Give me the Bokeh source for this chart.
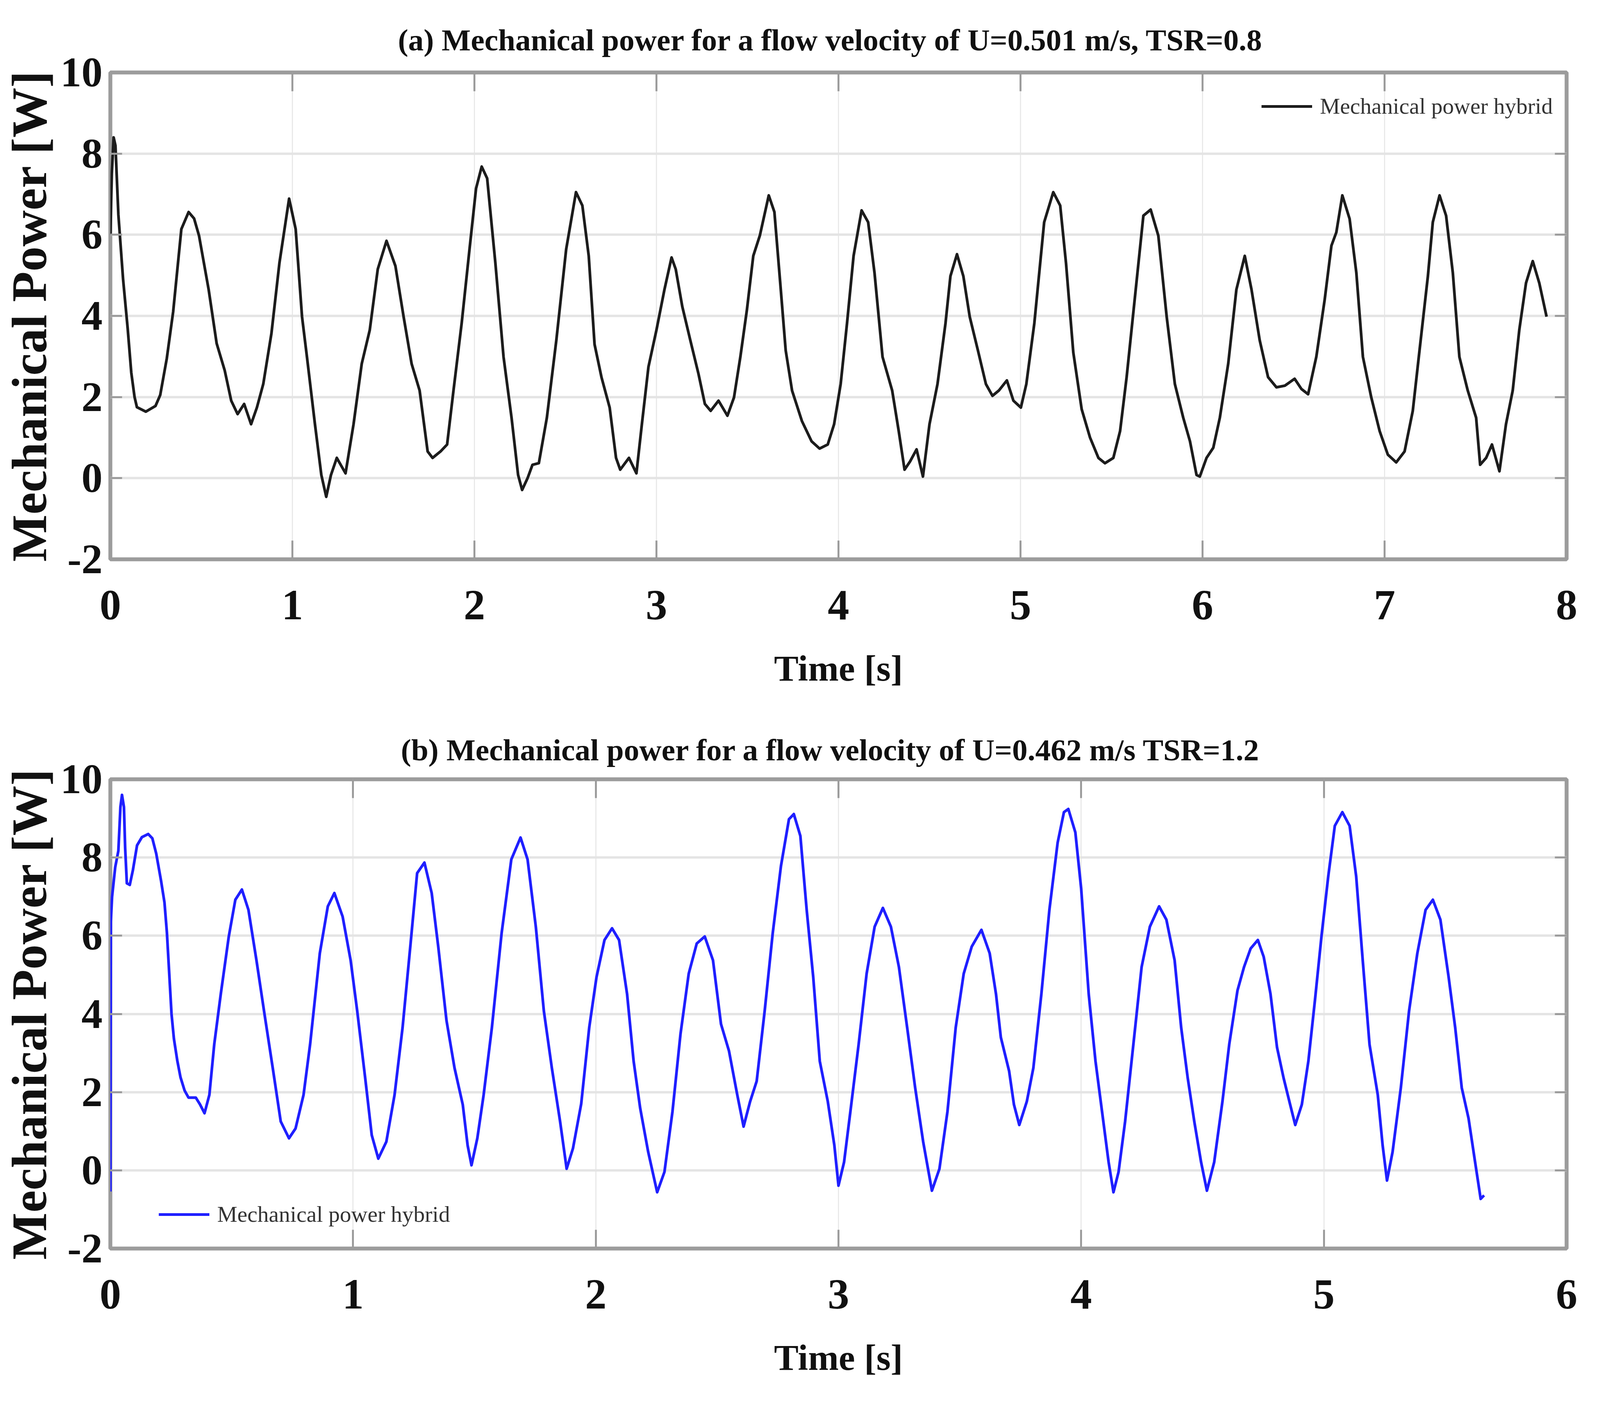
from bokeh.plotting import figure
from bokeh.layouts import column
from bokeh.models import LinearAxis, FixedTicker, Legend, LegendItem, Range1d
from bokeh.embed import file_html
from bokeh.resources import INLINE

# ---------------- data ----------------
title_a = "(a)   Mechanical power for a flow velocity of U=0.501 m/s, TSR=0.8"
title_b = "(b)   Mechanical power for a flow velocity of U=0.462 m/s TSR=1.2"
legend_label = "Mechanical power hybrid"
x_label = "Time [s]"
y_label = "Mechanical Power [W]"
x_ticks_a = [0, 1, 2, 3, 4, 5, 6, 7, 8]
x_ticks_b = [0, 1, 2, 3, 4, 5, 6]
y_ticks = [-2, 0, 2, 4, 6, 8, 10]
y_tick_labels = {-2: "-2", 0: "0", 2: "2", 4: "4", 6: "6", 8: "8", 10: "10"}

time_a = [0.000, 0.008, 0.018, 0.028, 0.044, 0.070, 0.095, 0.115, 0.133, 0.146,
          0.195, 0.248, 0.274, 0.310, 0.345, 0.390, 0.430, 0.460, 0.487, 0.540,
          0.584, 0.628, 0.664, 0.699, 0.735, 0.773, 0.805, 0.840, 0.885, 0.929,
          0.982, 1.018, 1.053, 1.080, 1.124, 1.159, 1.186, 1.212, 1.244, 1.292,
          1.336, 1.381, 1.425, 1.469, 1.517, 1.566, 1.611, 1.655, 1.699, 1.743,
          1.770, 1.814, 1.850, 1.885, 1.930, 1.973, 2.009, 2.040, 2.070, 2.115,
          2.160, 2.204, 2.240, 2.262, 2.292, 2.319, 2.354, 2.398, 2.450, 2.504,
          2.558, 2.593, 2.628, 2.660, 2.698, 2.743, 2.778, 2.801, 2.849, 2.890,
          2.920, 2.956, 3.000, 3.044, 3.083, 3.106, 3.142, 3.186, 3.231, 3.266,
          3.298, 3.341, 3.390, 3.426, 3.461, 3.497, 3.532, 3.568, 3.617, 3.648,
          3.683, 3.710, 3.745, 3.799, 3.852, 3.896, 3.941, 3.976, 4.012, 4.047,
          4.083, 4.127, 4.163, 4.198, 4.242, 4.295, 4.331, 4.363, 4.393, 4.429,
          4.464, 4.500, 4.544, 4.588, 4.615, 4.651, 4.686, 4.721, 4.766, 4.810,
          4.846, 4.881, 4.925, 4.961, 5.002, 5.032, 5.076, 5.130, 5.180, 5.218,
          5.250, 5.290, 5.336, 5.382, 5.428, 5.464, 5.510, 5.547, 5.583, 5.629,
          5.675, 5.715, 5.757, 5.803, 5.848, 5.894, 5.931, 5.967, 5.985, 6.022,
          6.059, 6.095, 6.141, 6.186, 6.232, 6.269, 6.314, 6.360, 6.406, 6.452,
          6.506, 6.543, 6.580, 6.625, 6.671, 6.708, 6.735, 6.768, 6.808, 6.845,
          6.881, 6.927, 6.973, 7.018, 7.064, 7.110, 7.155, 7.192, 7.238, 7.265,
          7.302, 7.338, 7.375, 7.411, 7.457, 7.503, 7.525, 7.558, 7.590, 7.631,
          7.667, 7.704, 7.740, 7.777, 7.814, 7.850, 7.890]
power_a = [6.00, 7.50, 8.40, 8.20, 6.50, 4.90, 3.70, 2.60, 2.00, 1.75,
           1.64, 1.78, 2.05, 2.95, 4.10, 6.14, 6.56, 6.40, 5.98, 4.65,
           3.32, 2.66, 1.91, 1.58, 1.83, 1.33, 1.74, 2.32, 3.57, 5.31,
           6.89, 6.14, 3.98, 2.99, 1.33, 0.08, -0.46, 0.08, 0.50, 0.12,
           1.33, 2.82, 3.65, 5.15, 5.85, 5.23, 3.98, 2.82, 2.16, 0.66,
           0.50, 0.66, 0.83, 2.16, 3.82, 5.64, 7.14, 7.68, 7.39, 5.31,
           2.99, 1.49, 0.08, -0.29, 0.00, 0.33, 0.37, 1.49, 3.40, 5.64,
           7.05, 6.72, 5.48, 3.30, 2.49, 1.74, 0.50, 0.21, 0.50, 0.12,
           1.33, 2.74, 3.65, 4.65, 5.44, 5.15, 4.23, 3.40, 2.57, 1.83,
           1.66, 1.91, 1.54, 1.99, 2.99, 4.15, 5.48, 5.98, 6.97, 6.56,
           4.65, 3.15, 2.16, 1.41, 0.91, 0.73, 0.83, 1.33, 2.32, 3.82,
           5.48, 6.60, 6.31, 5.06, 2.99, 2.16, 1.16, 0.21, 0.41, 0.71,
           0.04, 1.33, 2.32, 3.82, 4.98, 5.52, 4.98, 3.98, 3.15, 2.32,
           2.03, 2.16, 2.41, 1.91, 1.74, 2.32, 3.82, 6.31, 7.05, 6.72,
           5.30, 3.10, 1.70, 1.00, 0.50, 0.37, 0.50, 1.16, 2.49, 4.48,
           6.47, 6.62, 5.98, 3.98, 2.32, 1.49, 0.91, 0.08, 0.04, 0.50,
           0.75, 1.49, 2.82, 4.65, 5.48, 4.65, 3.40, 2.49, 2.24, 2.28,
           2.45, 2.20, 2.07, 2.99, 4.40, 5.73, 6.06, 6.97, 6.39, 5.06,
           2.99, 1.99, 1.16, 0.58, 0.39, 0.66, 1.66, 3.15, 4.98, 6.31,
           6.97, 6.47, 5.06, 2.99, 2.16, 1.49, 0.33, 0.50, 0.83, 0.17,
           1.33, 2.16, 3.65, 4.81, 5.35, 4.81, 3.98]

time_b = [0.000, 0.002, 0.007, 0.020, 0.033, 0.0415, 0.048, 0.056, 0.061, 0.068,
          0.080, 0.093, 0.110, 0.130, 0.156, 0.173, 0.189, 0.209, 0.223, 0.233,
          0.242, 0.252, 0.262, 0.276, 0.289, 0.306, 0.322, 0.352, 0.369, 0.388,
          0.408, 0.428, 0.455, 0.488, 0.515, 0.542, 0.569, 0.602, 0.635, 0.669,
          0.702, 0.736, 0.763, 0.796, 0.823, 0.863, 0.896, 0.923, 0.957, 0.990,
          1.017, 1.050, 1.077, 1.104, 1.137, 1.171, 1.204, 1.237, 1.264, 1.294,
          1.324, 1.351, 1.385, 1.418, 1.452, 1.472, 1.488, 1.512, 1.538, 1.572,
          1.612, 1.652, 1.690, 1.719, 1.753, 1.786, 1.819, 1.853, 1.880, 1.906,
          1.940, 1.973, 2.003, 2.036, 2.067, 2.096, 2.129, 2.156, 2.183, 2.216,
          2.253, 2.283, 2.316, 2.349, 2.383, 2.416, 2.449, 2.483, 2.516, 2.549,
          2.583, 2.609, 2.636, 2.663, 2.696, 2.729, 2.763, 2.796, 2.816, 2.843,
          2.869, 2.896, 2.923, 2.956, 2.983, 3.000, 3.023, 3.049, 3.083, 3.116,
          3.149, 3.183, 3.216, 3.249, 3.283, 3.316, 3.349, 3.385, 3.416, 3.449,
          3.483, 3.516, 3.549, 3.589, 3.623, 3.649, 3.669, 3.703, 3.723, 3.745,
          3.776, 3.803, 3.836, 3.869, 3.903, 3.929, 3.947, 3.976, 4.000, 4.031,
          4.059, 4.086, 4.113, 4.133, 4.154, 4.181, 4.215, 4.249, 4.283, 4.321,
          4.351, 4.385, 4.412, 4.439, 4.466, 4.494, 4.518, 4.548, 4.582, 4.610,
          4.644, 4.671, 4.698, 4.728, 4.752, 4.780, 4.807, 4.834, 4.861, 4.882,
          4.909, 4.936, 4.963, 4.990, 5.018, 5.045, 5.076, 5.106, 5.133, 5.160,
          5.188, 5.222, 5.242, 5.260, 5.283, 5.317, 5.351, 5.385, 5.419, 5.449,
          5.480, 5.514, 5.541, 5.568, 5.596, 5.623, 5.646, 5.660]
power_b = [-0.54, 6.36, 6.99, 7.75, 8.17, 9.29, 9.60, 9.29, 8.24, 7.34,
           7.30, 7.68, 8.31, 8.52, 8.60, 8.49, 8.10, 7.40, 6.85, 6.08,
           5.10, 4.00, 3.36, 2.80, 2.38, 2.04, 1.86, 1.86, 1.69, 1.46,
           1.93, 3.22, 4.51, 5.98, 6.92, 7.18, 6.66, 5.37, 4.00, 2.62,
           1.25, 0.82, 1.07, 1.93, 3.22, 5.55, 6.75, 7.09, 6.49, 5.37,
           4.08, 2.36, 0.90, 0.30, 0.73, 1.93, 3.65, 5.80, 7.60, 7.87,
           7.09, 5.72, 3.83, 2.62, 1.68, 0.64, 0.13, 0.82, 1.93, 3.65,
           6.06, 7.95, 8.51, 7.95, 6.23, 4.08, 2.62, 1.25, 0.04, 0.56,
           1.70, 3.65, 4.94, 5.89, 6.19, 5.89, 4.51, 2.79, 1.59, 0.47,
           -0.56, -0.04, 1.50, 3.48, 5.03, 5.80, 5.98, 5.37, 3.74, 3.05,
           1.93, 1.12, 1.76, 2.28, 4.08, 6.06, 7.78, 8.98, 9.11, 8.55,
           6.66, 4.94, 2.79, 1.76, 0.64, -0.39, 0.21, 1.50, 3.22, 5.03,
           6.23, 6.71, 6.23, 5.20, 3.65, 2.11, 0.73, -0.52, 0.04, 1.50,
           3.65, 5.03, 5.72, 6.15, 5.55, 4.51, 3.40, 2.54, 1.68, 1.16,
           1.76, 2.62, 4.51, 6.66, 8.38, 9.16, 9.24, 8.64, 7.20, 4.51,
           2.79, 1.50, 0.21, -0.56, -0.04, 1.25, 3.22, 5.20, 6.23, 6.75,
           6.41, 5.37, 3.65, 2.36, 1.25, 0.21, -0.52, 0.21, 1.76, 3.22,
           4.60, 5.20, 5.67, 5.89, 5.46, 4.51, 3.14, 2.36, 1.68, 1.16,
           1.68, 2.79, 4.34, 5.98, 7.52, 8.81, 9.16, 8.81, 7.52, 5.37,
           3.22, 1.93, 0.64, -0.26, 0.47, 2.11, 4.08, 5.55, 6.66, 6.92,
           6.41, 4.94, 3.65, 2.11, 1.33, 0.21, -0.73, -0.64]

# ---------------- styling helpers ----------------
SERIF = "Liberation Serif"
FRAME_GRAY = "#9c9c9c"


def style_axis(ax, ticks, label_size, tick_len):
    ax.ticker = FixedTicker(ticks=ticks)
    ax.axis_line_color = None
    ax.major_tick_in = tick_len
    ax.major_tick_out = 0
    ax.minor_tick_in = 0
    ax.minor_tick_out = 0
    ax.major_tick_line_color = FRAME_GRAY
    ax.major_tick_line_width = 5
    ax.major_label_text_font = SERIF
    ax.major_label_text_font_style = "bold"
    ax.major_label_text_font_size = label_size
    ax.major_label_text_color = "#111111"
    ax.axis_label_text_font = SERIF
    ax.axis_label_text_font_style = "bold"
    ax.axis_label_text_color = "#111111"


def make_panel(title, title_standoff, xmax, xticks, t, p, color, legend_loc,
               height, border_top, border_bottom):
    fig = figure(width=4080, height=height, output_backend="svg",
                 toolbar_location=None, x_range=Range1d(0, xmax),
                 y_range=Range1d(-2, 10),
                 min_border_left=277, min_border_right=70,
                 min_border_top=border_top, min_border_bottom=border_bottom)
    fig.title.text = title
    fig.title.align = "center"
    fig.title.text_font = SERIF
    fig.title.text_font_style = "bold"
    fig.title.text_font_size = "79px"
    fig.title.text_color = "#111111"
    fig.title.standoff = title_standoff

    fig.outline_line_color = FRAME_GRAY
    fig.outline_line_width = 10
    fig.background_fill_color = "white"
    fig.border_fill_color = "white"

    xa = fig.xaxis[0]
    style_axis(xa, xticks, "110px", 48)
    xa.axis_label = x_label
    xa.axis_label_text_font_size = "94px"
    xa.major_label_standoff = 80
    xa.axis_label_standoff = 70

    ya = fig.yaxis[0]
    style_axis(ya, y_ticks, "108px", 30)
    ya.major_label_overrides = y_tick_labels
    ya.axis_label = y_label
    ya.axis_label_text_font_size = "128px"
    ya.major_label_standoff = 20
    ya.axis_label_standoff = 6

    # tick marks on the top and right frame edges (labels not drawn)
    top = LinearAxis()
    style_axis(top, xticks, "8px", 48)
    top.major_label_text_color = None
    top.major_label_standoff = 0
    fig.add_layout(top, "above")
    right = LinearAxis()
    style_axis(right, y_ticks, "8px", 30)
    right.major_label_text_color = None
    right.major_label_standoff = 0
    fig.add_layout(right, "right")

    fig.xgrid.ticker = FixedTicker(ticks=xticks)
    fig.ygrid.ticker = FixedTicker(ticks=y_ticks)
    fig.xgrid.grid_line_color = "#e9e9e9"
    fig.xgrid.grid_line_width = 3
    fig.ygrid.grid_line_color = "#e4e4e4"
    fig.ygrid.grid_line_width = 6

    r = fig.line(t, p, line_color=color, line_width=7, line_join="round")

    leg = Legend(items=[LegendItem(label=legend_label, renderers=[r])],
                 location=legend_loc)
    leg.label_text_font = SERIF
    leg.label_text_font_size = "58px"
    leg.label_text_color = "#333333"
    leg.glyph_width = 130
    leg.glyph_height = 58
    leg.label_standoff = 20
    leg.padding = 6
    leg.margin = 0
    leg.background_fill_alpha = 0
    leg.border_line_alpha = 0
    fig.add_layout(leg, "center")
    return fig


p1 = make_panel(title_a, 80, 8, x_ticks_a, time_a, power_a, "#1c1c1c",
                (2941, 1120), 1830, 185, 399)
p2 = make_panel(title_b, 64, 6, x_ticks_b, time_b, power_b, "#1f1fff",
                (118, 48), 1796, 164, 431)

p = column(p1, p2)
open("out.html", "w").write(file_html(p, INLINE))
